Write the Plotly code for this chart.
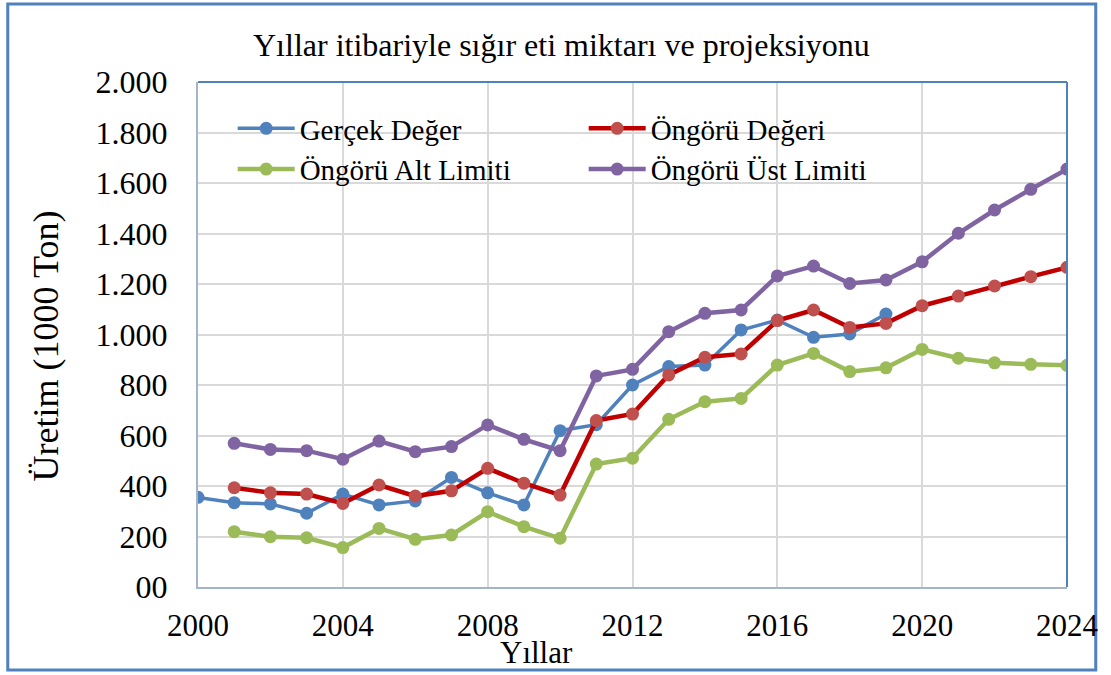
import plotly.graph_objects as go

years = list(range(2000, 2025))

gercek = [355, 334, 329, 292, 368, 325, 341, 434, 373, 325, 619, 643, 800, 873, 879, 1018, 1057, 989, 1002, 1081]
gercek_years = list(range(2000, 2020))

ongoru_years = list(range(2001, 2025))
ongoru = [393, 373, 368, 331, 404, 360, 381, 470, 411, 364, 659, 685, 840, 910, 923, 1055, 1097, 1028, 1044, 1114, 1152, 1192, 1229, 1266]
alt = [219, 199, 195, 156, 232, 189, 206, 298, 239, 193, 487, 510, 664, 734, 747, 879, 925, 853, 868, 941, 906, 888, 882, 878]
ust = [569, 545, 540, 506, 578, 536, 556, 642, 585, 540, 836, 862, 1011, 1084, 1097, 1232, 1271, 1202, 1216, 1288, 1401, 1493, 1575, 1655]

y_ticks = [0, 200, 400, 600, 800, 1000, 1200, 1400, 1600, 1800, 2000]
y_labels = ["00", "200", "400", "600", "800", "1.000", "1.200", "1.400", "1.600", "1.800", "2.000"]
x_ticks = [2000, 2004, 2008, 2012, 2016, 2020, 2024]

title = "Yıllar itibariyle sığır eti miktarı ve projeksiyonu"
x_title = "Yıllar"
y_title = "Üretim (1000 Ton)"

FONT = "Liberation Serif"
W, H = 1111, 675
ML, MR, MT, MB = 198, 36, 82, 88
PW, PH = W - ML - MR, H - MT - MB

fig = go.Figure()
fig.add_trace(go.Scatter(x=gercek_years, y=gercek, name="Gerçek Değer", mode="lines+markers",
                         line=dict(color="#4F81BD", width=3.5), marker=dict(color="#4F81BD", size=13)))
fig.add_trace(go.Scatter(x=ongoru_years, y=ongoru, name="Öngörü Değeri", mode="lines+markers",
                         line=dict(color="#C00000", width=4.5), marker=dict(color="#C0504D", size=13)))
fig.add_trace(go.Scatter(x=ongoru_years, y=alt, name="Öngörü Alt Limiti", mode="lines+markers",
                         line=dict(color="#9BBB59", width=4.5), marker=dict(color="#9BBB59", size=13)))
fig.add_trace(go.Scatter(x=ongoru_years, y=ust, name="Öngörü Üst Limiti", mode="lines+markers",
                         line=dict(color="#8064A2", width=4.5), marker=dict(color="#8064A2", size=13)))

def px_x(p):
    return (p - ML) / PW

def px_y(p):
    return 1 - (p - MT) / PH

fig.update_layout(
    width=W, height=H,
    margin=dict(l=ML, r=MR, t=MT, b=MB),
    paper_bgcolor="white", plot_bgcolor="white",
    font=dict(family=FONT, color="black"),
    showlegend=True,
    legend=dict(orientation="h", x=px_x(233), y=px_y(103), xanchor="left", yanchor="top",
                entrywidth=279, entrywidthmode="pixels", itemwidth=57,
                font=dict(family=FONT, size=29), bgcolor="rgba(0,0,0,0)", tracegroupgap=0),
    xaxis=dict(range=[2000, 2024], tickvals=x_ticks, ticktext=[str(v) for v in x_ticks],
               showgrid=True, gridcolor="#D9D9D9", gridwidth=2, zeroline=False,
               showline=True, linecolor="#A6B4C8", linewidth=2, ticks="",
               tickfont=dict(family=FONT, size=31), ticklabelstandoff=10),
    yaxis=dict(range=[0, 2000], tickvals=y_ticks, ticktext=y_labels,
               showgrid=True, gridcolor="#D9D9D9", gridwidth=2, zeroline=False,
               showline=True, linecolor="#A6B4C8", linewidth=2, ticks="",
               tickfont=dict(family=FONT, size=32), ticklabelstandoff=22),
)

# plot area top and right border (blue)
fig.add_shape(type="line", xref="paper", yref="paper", x0=0, x1=1, y0=1, y1=1,
              line=dict(color="#4F81BD", width=2))
fig.add_shape(type="line", xref="paper", yref="paper", x0=1, x1=1, y0=0, y1=1,
              line=dict(color="#4F81BD", width=2))
# outer chart border
fig.add_shape(type="rect", xref="paper", yref="paper", x0=px_x(6), x1=px_x(1104), y0=px_y(4), y1=px_y(670),
              line=dict(color="#4F81BD", width=3), fillcolor="rgba(0,0,0,0)", layer="below")

fig.add_annotation(text=title, xref="paper", yref="paper", x=px_x(565), y=px_y(45),
                   showarrow=False, font=dict(family=FONT, size=32), xanchor="center", yanchor="middle")
fig.add_annotation(text=x_title, xref="paper", yref="paper", x=px_x(540), y=px_y(652),
                   showarrow=False, font=dict(family=FONT, size=31), xanchor="center", yanchor="middle")
fig.add_annotation(text=y_title, xref="paper", yref="paper", x=px_x(45), y=px_y(346),
                   showarrow=False, textangle=-90, font=dict(family=FONT, size=36), xanchor="center", yanchor="middle")

fig.write_html(
    "out.html",
    config={"displayModeBar": False},
    post_script="document.body.style.margin='0px';document.documentElement.style.overflow='hidden';document.body.style.overflow='hidden';",
)
